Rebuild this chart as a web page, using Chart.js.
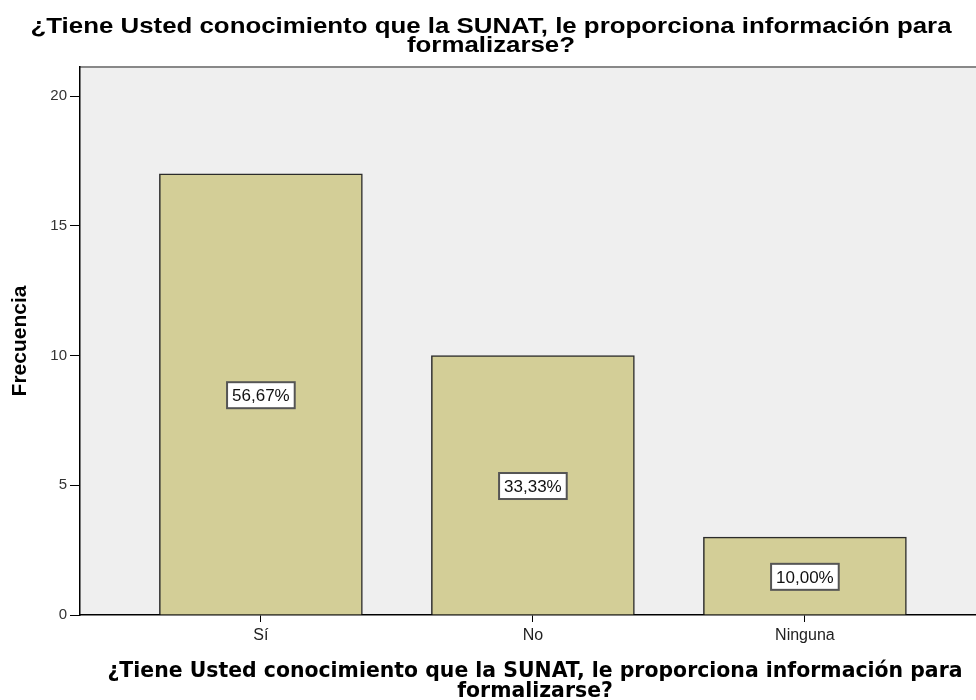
<!DOCTYPE html>
<html lang="es">
<head>
  <meta charset="UTF-8">
  <title>SUNAT – Frecuencia</title>
  <script src="https://cdn.jsdelivr.net/npm/chart.js"></script>
  <style>
    html, body { margin: 0; padding: 0; background: #fff; }
    #wrap { width: 976px; height: 700px; }
  </style>
</head>
<body>
<div id="wrap"><canvas id="chart"></canvas></div>
<script>
  // data
  const categories = ['Sí', 'No', 'Ninguna'];
  const counts = [17, 10, 3];
  const pctLabels = ['56,67%', '33,33%', '10,00%'];
  const yTicks = [0, 5, 10, 15, 20];
  const question = ['¿Tiene Usted conocimiento que la SUNAT, le proporciona información para', 'formalizarse?'];

  const barFill = '#d3ce97';
  const arial = '"Liberation Sans", Arial, sans-serif';

  // plot background + gray top border
  const plotBg = {
    id: 'plotBg',
    beforeDraw(chart) {
      const { ctx, chartArea: a } = chart;
      ctx.save();
      ctx.fillStyle = '#efefef';
      ctx.fillRect(a.left, a.top, a.right - a.left, a.bottom - a.top);
      ctx.strokeStyle = '#888';
      ctx.lineWidth = 2;
      ctx.beginPath();
      ctx.moveTo(a.left, a.top);
      ctx.lineTo(a.right, a.top);
      ctx.stroke();
      ctx.restore();
    }
  };

  // the two titles (SPSS stretches the top one a bit wider)
  function stretchedLines(ctx, lines, font, cx, baselines, width) {
    ctx.font = font;
    const sx = width ? width / ctx.measureText(lines[0]).width : 1;
    lines.forEach((t, i) => {
      ctx.save();
      ctx.translate(cx, baselines[i]);
      ctx.scale(sx, 1);
      ctx.fillText(t, 0, 0);
      ctx.restore();
    });
  }
  const titles = {
    id: 'titles',
    afterDraw(chart) {
      const { ctx } = chart;
      ctx.save();
      ctx.fillStyle = '#000';
      ctx.textAlign = 'center';
      ctx.textBaseline = 'alphabetic';
      stretchedLines(ctx, question, 'bold 22px ' + arial, 491, [33, 52], 921);
      stretchedLines(ctx, question, 'bold 20.5px "DejaVu Sans", Verdana, sans-serif', 535, [677, 697], 855);
      ctx.restore();
    }
  };

  // percentage boxes in the middle of each bar
  const pctBoxes = {
    id: 'pctBoxes',
    afterDatasetsDraw(chart) {
      const { ctx } = chart;
      const meta = chart.getDatasetMeta(0);
      ctx.save();
      ctx.font = '17px ' + arial;
      ctx.textAlign = 'center';
      ctx.textBaseline = 'middle';
      meta.data.forEach((bar, i) => {
        const cx = bar.x, cy = (bar.y + bar.base) / 2 + 1;
        const w = ctx.measureText(pctLabels[i]).width + 10, h = 26;
        ctx.fillStyle = '#fff';
        ctx.fillRect(cx - w / 2, cy - h / 2, w, h);
        ctx.strokeStyle = '#555';
        ctx.lineWidth = 2;
        ctx.strokeRect(cx - w / 2, cy - h / 2, w, h);
        ctx.fillStyle = '#111';
        ctx.fillText(pctLabels[i], cx, cy + 1);
      });
      ctx.restore();
    }
  };

  new Chart(document.getElementById('chart'), {
    type: 'bar',
    data: {
      datasets: [{
        data: counts.map((v, i) => ({ x: i, y: v })),
        backgroundColor: barFill,
        borderColor: '#2b2b2b',
        borderWidth: 1.5,
        barThickness: 203
      }]
    },
    options: {
      responsive: true,
      maintainAspectRatio: false,
      animation: false,
      layout: { padding: { top: 67, left: 0, right: 0, bottom: 0 } },
      plugins: {
        legend: { display: false },
        tooltip: { enabled: false },
        title: { display: false }
      },
      scales: {
        x: {
          type: 'linear',
          min: -0.665,
          max: 2.629,
          offset: false,
          afterBuildTicks: s => { s.ticks = categories.map((c, i) => ({ value: i })); },
          afterFit: s => { s.height = 85; },
          border: { display: true, color: '#000', width: 1.5 },
          grid: { offset: false, drawOnChartArea: false, drawTicks: true, tickLength: 7, color: '#000' },
          ticks: {
            color: '#222',
            font: { family: arial, size: 16 },
            padding: 4,
            maxRotation: 0,
            callback: v => categories[v] ?? ''
          },
          title: { display: false }
        },
        y: {
          min: 0,
          max: 21.12,
          afterBuildTicks: s => { s.ticks = yTicks.map(v => ({ value: v })); },
          afterFit: s => { s.width = 80; },
          border: { display: true, color: '#000', width: 1.5 },
          grid: { drawOnChartArea: false, drawTicks: true, tickLength: 10, color: '#000' },
          ticks: {
            color: '#333',
            font: { family: arial, size: 15 },
            padding: 3
          },
          title: {
            display: true,
            text: 'Frecuencia',
            color: '#000',
            font: { family: arial, size: 21, weight: 'bold', lineHeight: 1.2 },
            padding: { top: 8, bottom: 4 }
          }
        }
      }
    },
    plugins: [plotBg, pctBoxes, titles]
  });
</script>
</body>
</html>
